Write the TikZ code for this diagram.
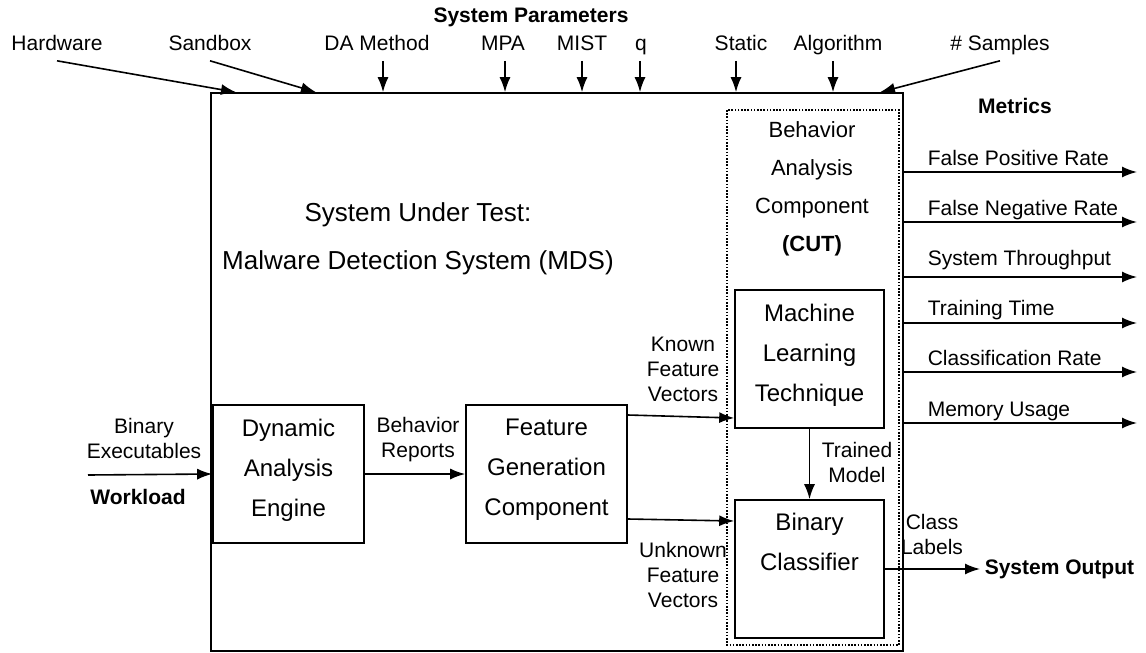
\documentclass[tikz,border=0pt]{standalone}
\usepackage{fontspec}
\setmainfont{Liberation Sans}
\usetikzlibrary{arrows.meta}

\begin{document}
\begin{tikzpicture}[x=1pt, y=-1pt, line width=1.6pt,
    >={Latex[length=15pt,width=11pt]},
    block/.style={draw, minimum height=138pt, align=center, inner sep=0pt,
      text depth=13pt, font=\fontsize{24}{40}\selectfont},
    lbl/.style={align=center, inner sep=0pt, font=\fontsize{21}{25}\selectfont},
    boldlbl/.style={lbl, font=\fontsize{21}{25}\selectfont\bfseries},
    param/.style={lbl, anchor=base, text depth=5pt, inner sep=5pt}]
  \useasboundingbox (0,0) rectangle (1146,653);

  % system under test and component under test
  \node[draw, minimum width=692pt, minimum height=558pt, inner sep=0pt] (sut) at (557,372) {};
  \draw[line width=1.2pt, dash pattern=on 1.6pt off 1.6pt] (727,110) rectangle (899,645);
  \node[lbl, font=\fontsize{26}{48}\selectfont] (title) at (418,239) {System Under Test:\\Malware Detection System (MDS)};
  \node[lbl, font=\fontsize{22}{38}\selectfont] (cut) at (812,189) {Behavior\\Analysis\\Component\\\textbf{(CUT)}};

  % blocks
  \node[block, minimum width=151pt] (dae) at (288.5,474) {Dynamic\\Analysis\\Engine};
  \node[block, minimum width=161pt] (fgc) at (546.5,474) {Feature\\Generation\\Component};
  \node[block, minimum width=149pt] (mlt) at (809.5,359) {Machine\\Learning\\Technique};
  \node[block, minimum width=149pt] (bc) at (809.5,569) {};
  \node[lbl, font=\fontsize{24}{40}\selectfont] (bctext) at (809.5,542) {Binary\\Classifier};

  % workload and data flow
  \coordinate (wl) at (88,475);
  \draw[->] (wl) -- (dae.west);
  \node[lbl] (bin) at (144,438) {Binary\\Executables};
  \node[boldlbl] (wload) at (138,497) {Workload};
  \draw[->] (dae.east) -- (fgc.west);
  \node[lbl] (rep) at (418,440) {Behavior\\Reports};
  \draw[->] ([yshift=59pt]fgc.east) -- ([yshift=-59pt]mlt.west);
  \node[lbl] (known) at (683,369) {Known\\Feature\\Vectors};
  \draw[->] ([yshift=-45pt]fgc.east) -- ([yshift=48pt]bc.west);
  \node[lbl] (unknown) at (683,575) {Unknown\\Feature\\Vectors};
  \draw[->] (mlt) -- (bc);
  \node[lbl] (model) at (857,462) {Trained\\Model};
  \node[lbl] (cls) at (932,534) {Class\\Labels};
  \node[boldlbl, anchor=west, inner sep=4pt] (out) at (980,569) {System Output};
  \draw[->] (bc.east) -- (out.west);

  % metrics
  \node[boldlbl] (metrics) at (1015,106) {Metrics};
  \foreach [count=\i] \ya/\yb/\txt in {172/165/False Positive Rate, 222/215/False Negative Rate,
      277/265/System Throughput, 323/315/Training Time, 372/365/Classification Rate,
      423/416/Memory Usage} {
    \coordinate (m\i) at (1137,\ya);
    \draw[->] (sut.east |- m\i) -- (m\i);
    \node[lbl, anchor=base west] (mt\i) at (927,\yb) {\txt};
  }

  % system parameters
  \node[boldlbl] (params) at (531,17) {System Parameters};
  \foreach [count=\i] \x/\ax/\txt in {377/383/DA Method, 503/505/MPA, 582/582/MIST,
      641/640/q, 741/736/Static, 838/833/Algorithm} {
    \node[param] (p\i) at (\x,50) {\txt};
    \draw[->] (\ax,0 |- p\i.south) -- (\ax,0 |- sut.north);
  }
  \node[param] (hw) at (57,50) {Hardware};
  \node[param] (sb) at (210,50) {Sandbox};
  \node[param] (ns) at (1000,50) {\# Samples};
  \draw[->] (hw.south) -- (236,0 |- sut.north);
  \draw[->] (sb.south) -- (316,0 |- sut.north);
  \draw[->] (ns.south) -- (880,0 |- sut.north);
\end{tikzpicture}
\end{document}
